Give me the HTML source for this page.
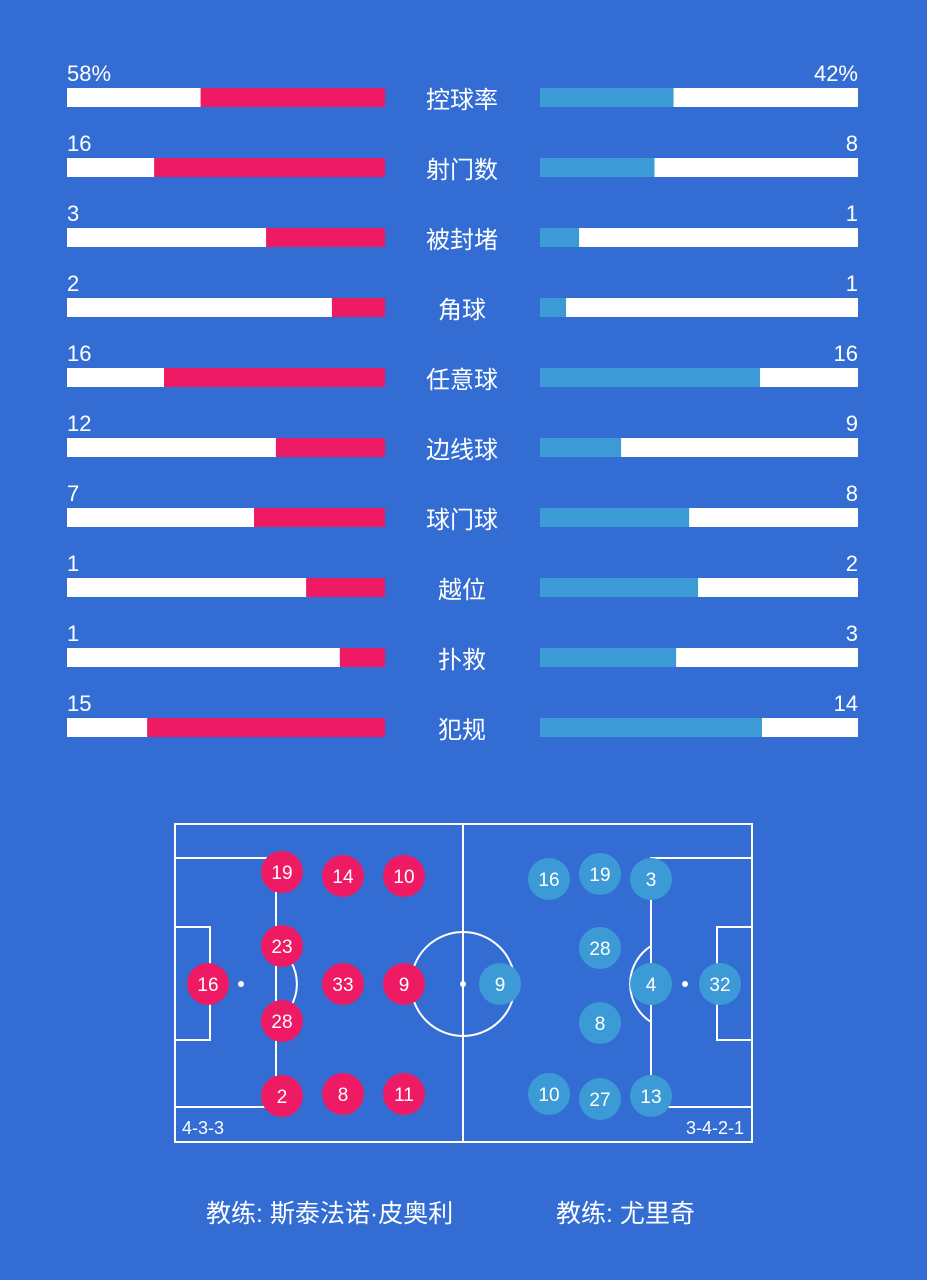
<!DOCTYPE html>
<html><head><meta charset="utf-8"><style>
body{margin:0;background:#336dd3;width:927px;height:1280px;overflow:hidden;font-family:"Liberation Sans","Noto Sans CJK SC",sans-serif;color:#fff}
svg{position:absolute;left:0;top:0}
</style></head><body>
<svg id="chart" width="927" height="1280"></svg>
<script>
const categories=["控球率","射门数","被封堵","角球","任意球","边线球","球门球","越位","扑救","犯规"];
const homeLabels=["58%","16","3","2","16","12","7","1","1","15"];
const awayLabels=["42%","8","1","1","16","9","8","2","3","14"];
const homeFill=[0.58,0.726,0.374,0.167,0.695,0.343,0.412,0.248,0.142,0.748];
const awayFill=[0.42,0.36,0.123,0.082,0.692,0.255,0.469,0.497,0.428,0.698];
const homePlayers=[["16",208,984],["19",282,872],["23",282,946],["28",282,1021],["2",282,1096],["14",343,876],["33",343,984],["8",343,1094],["10",404,876],["9",404,984],["11",404,1094]];
const awayPlayers=[["9",500,984],["16",549,879],["19",600,874],["3",651,879],["28",600,948],["8",600,1023],["4",651,984],["32",720,984],["10",549,1094],["27",600,1099],["13",651,1096]];
const NS="http://www.w3.org/2000/svg";
const svg=document.getElementById('chart');
function mk(t,a,p){const e=document.createElementNS(NS,t);for(const k in a)e.setAttribute(k,a[k]);(p||svg).appendChild(e);return e;}
const BW=318,LX=67,RX=540,PINK="#ee1a64",BLUE="#3c9bd6";
const rowY=i=>88+i*70;
categories.forEach((c,i)=>{
  const y=rowY(i);
  let e=mk('rect',{x:LX,y:y,width:BW,height:19,fill:'#fff'});
  
  const hw=BW*homeFill[i];
  e=mk('rect',{x:LX+BW-hw,y:y,width:hw,height:19,fill:PINK});
  
  e=mk('rect',{x:RX,y:y,width:BW,height:19,fill:'#fff'});
  
  e=mk('rect',{x:RX,y:y,width:BW*awayFill[i],height:19,fill:BLUE});
  
  e=mk('text',{x:LX,y:y-7,fill:'#fff','font-size':22});e.textContent=homeLabels[i];
  
  e=mk('text',{x:RX+BW,y:y-7,fill:'#fff','font-size':22,'text-anchor':'end'});e.textContent=awayLabels[i];
  
  e=mk('text',{x:462,y:y+20,fill:'#fff','font-size':24,'text-anchor':'middle'});e.textContent=c;
  
});
// pitch
const g=mk('g',{stroke:'#fff','stroke-width':2,fill:'none'});

mk('rect',{x:175,y:824,width:577,height:318},g);
mk('line',{x1:463,y1:824,x2:463,y2:1142},g);
mk('circle',{cx:463,cy:984,r:52},g);
mk('rect',{x:175,y:858,width:101,height:249},g);
mk('rect',{x:175,y:927,width:35,height:113},g);
mk('rect',{x:651,y:858,width:101,height:249},g);
mk('rect',{x:717,y:927,width:35,height:113},g);
mk('path',{d:'M276 946 A45 45 0 0 1 276 1022'},g);
mk('path',{d:'M651 946 A45 45 0 0 0 651 1022'},g);
[[463,984],[241,984],[685,984]].forEach(p=>mk('circle',{cx:p[0],cy:p[1],r:3,fill:'#fff',stroke:'none'}));
function players(arr,col,name){arr.forEach(p=>{
  let c=mk('circle',{cx:p[1],cy:p[2],r:21,fill:col});
  
  let t=mk('text',{x:p[1],y:p[2]+7,fill:'#fff','font-size':19,'text-anchor':'middle'});t.textContent=p[0];
  
});}
players(homePlayers,PINK,'home-player');
players(awayPlayers,BLUE,'away-player');
let t=mk('text',{x:182,y:1134,fill:'#fff','font-size':18});t.textContent='4-3-3';

t=mk('text',{x:744,y:1134,fill:'#fff','font-size':18,'text-anchor':'end'});t.textContent='3-4-2-1';

t=mk('text',{x:206,y:1222,fill:'#fff','font-size':25});t.textContent='教练: 斯泰法诺·皮奥利';

t=mk('text',{x:556,y:1222,fill:'#fff','font-size':25});t.textContent='教练: 尤里奇';

</script>
</body></html>
